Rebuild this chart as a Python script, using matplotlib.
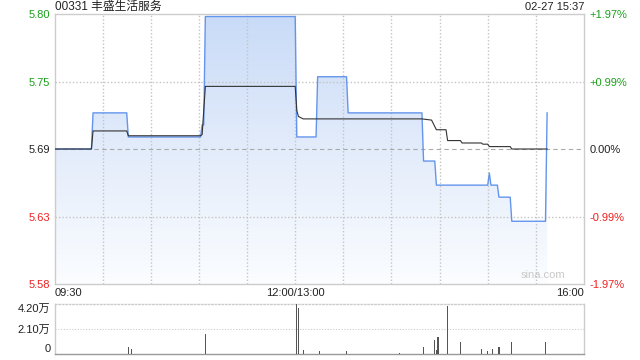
import numpy as np
import matplotlib
matplotlib.use('Agg')
import matplotlib.pyplot as plt
from matplotlib.colors import LinearSegmentedColormap

plt.rcParams['font.family'] = ['Liberation Sans', 'Noto Sans CJK SC', 'DejaVu Sans']

# ---------------- data ----------------
title = '00331 丰盛生活服务'
stamp = '02-27 15:37'
prev_close = 5.69

price_times = ['09:30', '09:53', '09:54', '10:15', '10:16', '11:01', '11:02', '11:03',
               '11:04', '12:00', '13:01', '13:13', '13:14', '13:32', '13:33', '14:19',
               '14:20', '14:27', '14:28', '15:00', '15:01', '15:02', '15:06', '15:07',
               '15:14', '15:15', '15:36', '15:37']
price_vals = [5.69, 5.69, 5.72, 5.72, 5.70, 5.70, 5.71, 5.71,
              5.80, 5.80, 5.70, 5.70, 5.75, 5.75, 5.72, 5.72,
              5.68, 5.68, 5.66, 5.66, 5.67, 5.66, 5.66, 5.65,
              5.65, 5.63, 5.63, 5.72]

avg_times = ['09:30', '09:53', '09:54', '10:15', '10:16', '11:01', '11:02', '11:04',
             '12:00', '13:01', '13:02', '13:05', '14:19', '14:25', '14:28', '14:34',
             '14:35', '14:43', '14:44', '14:56', '14:57', '15:00', '15:01', '15:14',
             '15:15', '15:37']
avg_vals = [5.690, 5.690, 5.705, 5.705, 5.701, 5.701, 5.702, 5.742,
            5.742, 5.722, 5.717, 5.715, 5.715, 5.714, 5.706, 5.706,
            5.697, 5.697, 5.695, 5.695, 5.694, 5.694, 5.692, 5.692,
            5.690, 5.690]

vol_times = ['10:16', '10:18', '11:04', '13:01', '13:02', '13:05', '13:15', '13:32',
             '14:05', '14:20', '14:27', '14:28', '14:29', '14:35', '14:43', '14:56',
             '15:00', '15:03', '15:07', '15:15', '15:36']
vol_vals = [5700, 4500, 16500, 42000, 39000, 3700, 2800, 2800,
            1000, 6200, 11400, 3700, 13900, 40300, 9700, 4000,
            2800, 4000, 5700, 9700, 9700]

pct_labels = ['-1.97%', '-0.99%', '0.00%', '+0.99%', '+1.97%']
price_labels = ['5.58', '5.63', '5.69', '5.75', '5.80']
vol_labels = ['0', '2.10万', '4.20万']


def to_index(t):
    """trading minute index, lunch break collapsed (12:00 == 13:00)"""
    h, m = map(int, t.split(':'))
    mins = h * 60 + m
    if mins <= 12 * 60:
        return mins - 570
    return mins - 780 + 150


px = np.array([to_index(t) for t in price_times])
py = np.array(price_vals)
ax_ = np.array([to_index(t) for t in avg_times])
ay = np.array(avg_vals)
vx = np.array([to_index(t) for t in vol_times])
vy = np.array(vol_vals)

lo = prev_close * (1 - 0.0197)
hi = prev_close * (1 + 0.0197)
yticks = np.linspace(lo, hi, 5)

green = '#1aa01a'
red = '#f02020'
grid_c = '#cccccc'

fig = plt.figure(figsize=(6.4, 3.6), dpi=100)
ax = fig.add_axes([0.0852, 0.2111, 0.8273, 0.75])
axv = fig.add_axes([0.0852, 0.0167, 0.8273, 0.1389])

# ---------------- price panel ----------------
ax.set_xlim(0, 330)
ax.set_ylim(lo, hi)

for gx in range(30, 330, 30):
    ax.axvline(gx, color='#c4c4c4', lw=1.0, ls=(0, (1, 1.5)), zorder=3)
for gy in [yticks[1], yticks[3]]:
    ax.axhline(gy, color='#c4c4c4', lw=1.0, ls=(0, (1, 1.5)), zorder=3)
ax.axhline(prev_close, color='#aaaaaa', lw=0.8, ls=(0, (4, 3)), zorder=3)

# gradient fill under price line
poly = ax.fill_between(px, py, lo, color='none', lw=0)
cmap = LinearSegmentedColormap.from_list('fade', ['#fbfdff', '#e3ecfb', '#c8dbf7'])
grad = np.linspace(0, 1, 256).reshape(-1, 1)
img = ax.imshow(grad, cmap=cmap, aspect='auto', origin='lower',
                extent=[0, 330, lo, hi], zorder=2)
img.set_clip_path(poly.get_paths()[0], transform=ax.transData)

ax.plot(px, py, color='#6495ed', lw=1.0, zorder=4)
ax.plot(ax_, ay, color='#333333', lw=0.8, zorder=5)

for s in ax.spines.values():
    s.set_color(grid_c)
    s.set_linewidth(1)

ax.set_yticks(yticks)
ax.set_yticklabels(price_labels, fontsize=8)
for lab, c in zip(ax.get_yticklabels(), [red, red, '#222222', green, green]):
    lab.set_color(c)
ax.tick_params(axis='both', length=0, pad=3)

ax.set_xticks([0, 150, 330])
ax.set_xticklabels(['09:30', '12:00/13:00', '16:00'], fontsize=8, color='#222222')
xl = ax.get_xticklabels()
xl[0].set_horizontalalignment('left')
xl[2].set_horizontalalignment('right')

ax2 = ax.twinx()
ax2.set_ylim(lo, hi)
ax2.set_yticks(yticks)
ax2.set_yticklabels(pct_labels, fontsize=8)
for lab, c in zip(ax2.get_yticklabels(), [red, red, '#222222', green, green]):
    lab.set_color(c)
ax2.tick_params(length=0, pad=4)
for s in ax2.spines.values():
    s.set_visible(False)

ax.text(0, 1.026, title, transform=ax.transAxes, fontsize=8.5, color='#222222',
        ha='left', va='center')
ax.text(1, 1.026, stamp, transform=ax.transAxes, fontsize=8, color='#222222',
        ha='right', va='center')
ax.text(0.965, 0.015, 'sina.com', transform=ax.transAxes, fontsize=8, color='#c8c8c8',
        ha='right', va='bottom', zorder=6)

# ---------------- volume panel ----------------
axv.set_xlim(0, 330)
axv.set_ylim(0, 42000)
axv.bar(vx, vy, width=0.7, color='#555555', zorder=3)
axv.axhline(21000, color=grid_c, lw=0.8, ls=(0, (1, 1.5)), zorder=1)
axv.set_xticks([])
axv.set_yticks([0, 21000, 42000])
axv.set_yticklabels(vol_labels, fontsize=8, color='#222222')
vl = axv.get_yticklabels()
vl[0].set_verticalalignment('bottom')
vl[2].set_verticalalignment('top')
axv.tick_params(length=0, pad=3)
for k, s in axv.spines.items():
    s.set_color(grid_c)
    s.set_linewidth(1)
axv.spines['top'].set_linestyle((0, (1, 1.5)))
axv.spines['bottom'].set_color('#999999')

fig.savefig('out.png', dpi=100)
